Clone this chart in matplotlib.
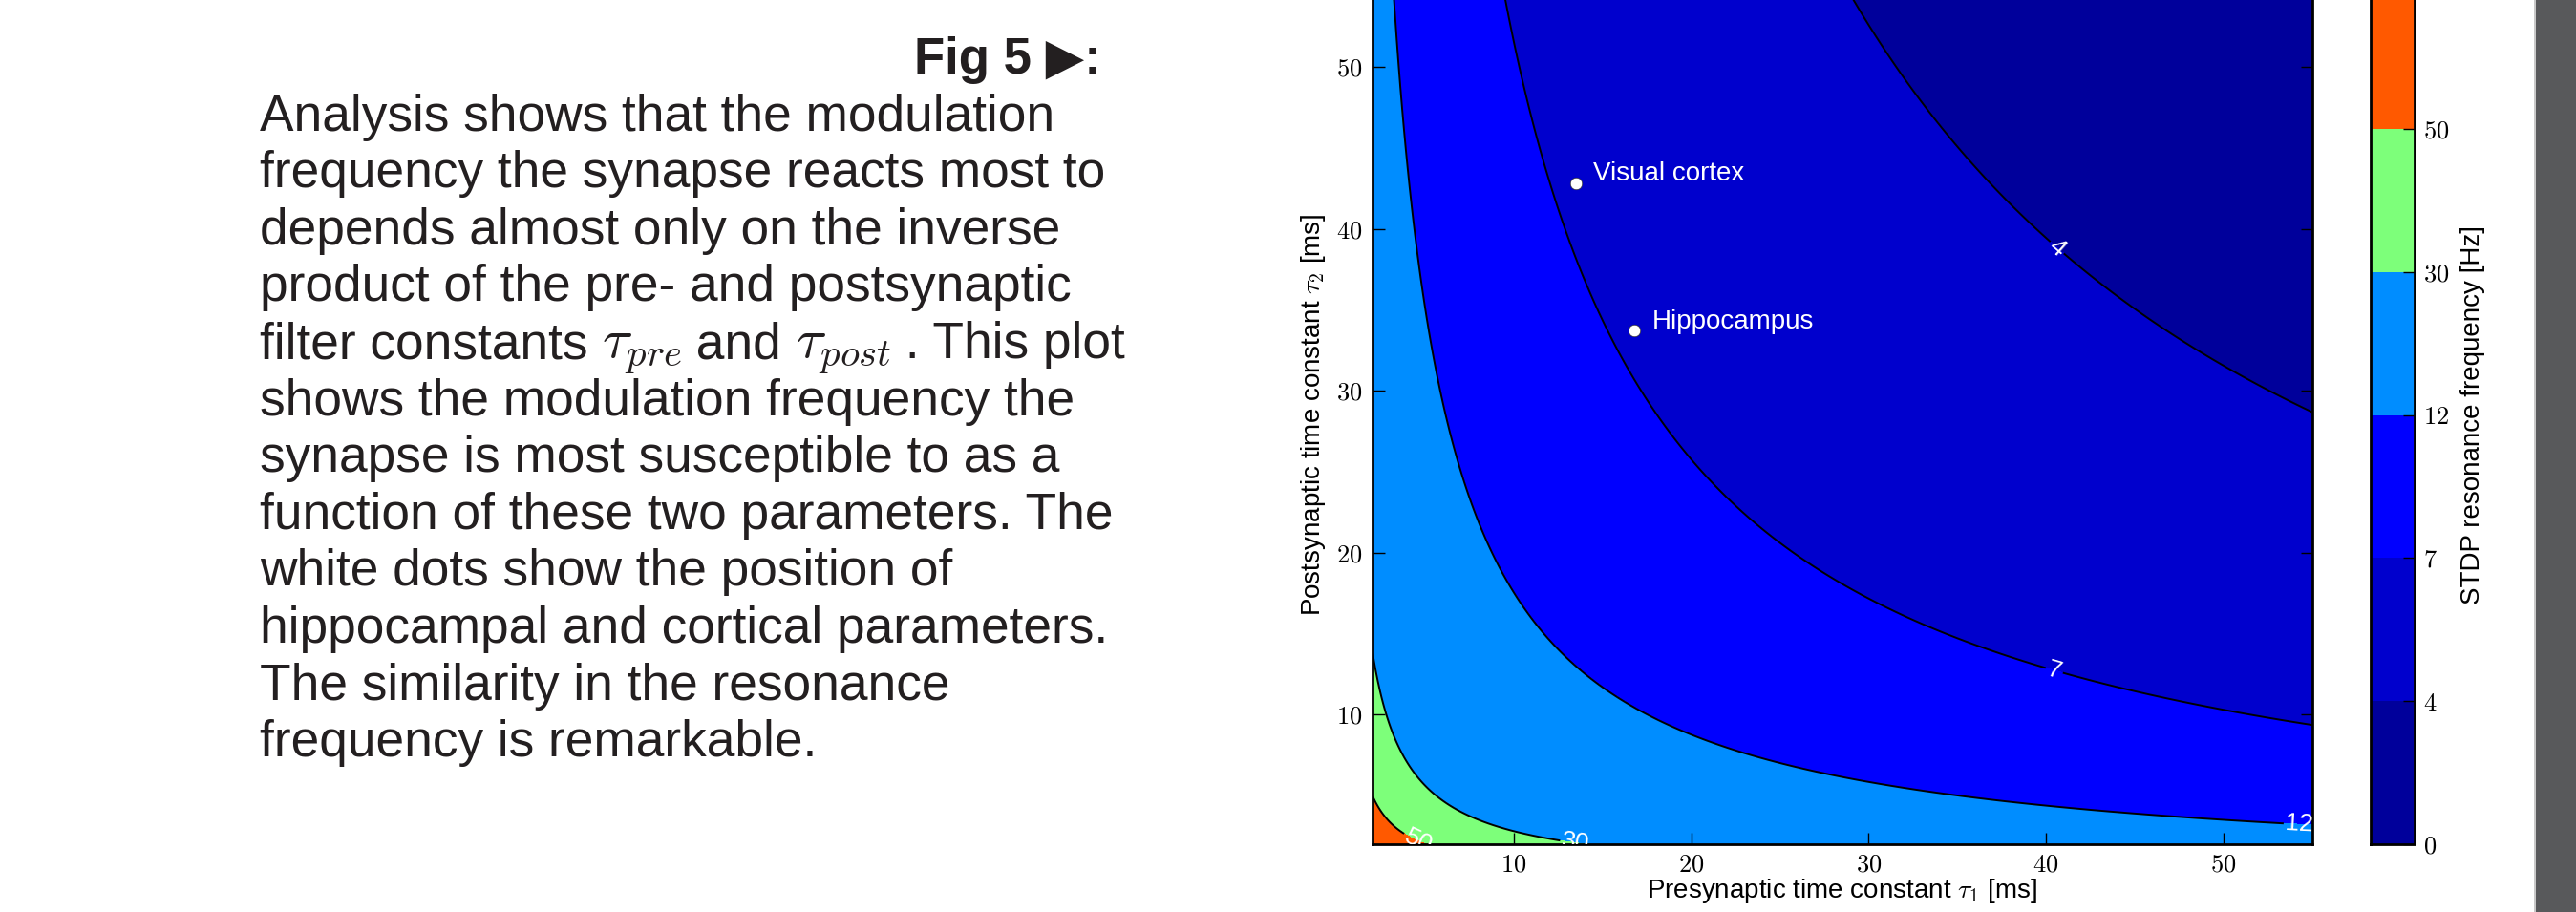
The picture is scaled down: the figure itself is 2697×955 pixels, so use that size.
#!/usr/bin/env python3
import numpy as np
import matplotlib
matplotlib.use('Agg')
import matplotlib.pyplot as plt
from matplotlib.ticker import FuncFormatter
from matplotlib.patches import Rectangle

plt.rcParams['font.family'] = ['Liberation Sans', 'DejaVu Sans']
plt.rcParams['mathtext.fontset'] = 'cm'

# contour levels of the STDP resonance frequency [Hz]
levels = [0, 4, 7, 12, 30, 50, 80]
tick_levels = [0, 4, 7, 12, 30, 50]
labelled_levels = [4, 7, 12, 30, 50]

# points: tau1 [ms], tau2 [ms], frequency [Hz]
read_tau1 = [2.0, 2.0, 3.3, 54.2, 55.0, 40.5, 40.6]
read_tau2 = [4.9, 13.85, 54.1, 3.24, 9.5, 12.85, 38.8]
read_freq = [50, 30, 12, 12, 7, 7, 4]

# white dots
site_names = ['Visual cortex', 'Hippocampus']
site_tau1 = [13.5, 16.8]
site_tau2 = [42.8, 33.7]

caption_title = 'Fig 5 \u25B6:'
caption_lines = [
    'Analysis shows that the modulation',
    'frequency the synapse reacts most to',
    'depends almost only on the inverse',
    'product of the pre- and postsynaptic',
    ['filter constants ', r'$\tau_{pre}$', ' and ', r'$\tau_{post}$', ' . This plot'],
    'shows the modulation frequency the',
    'synapse is most susceptible to as a',
    'function of these two parameters. The',
    'white dots show the position of',
    'hippocampal and cortical parameters.',
    'The similarity in the resonance',
    'frequency is remarkable.',
]


def main():
    W, H = 2697, 955
    fig = plt.figure(figsize=(W / 100, H / 100), dpi=100)
    renderer = fig.canvas.get_renderer()

    """
    caption text
    """
    fig.text(1153 / W, 1 - 77 / H, caption_title, ha='right', va='baseline',
             fontsize=38, fontweight='bold', color='#231f20')
    for i, line in enumerate(caption_lines):
        y = 1 - (136.7 + 59.6 * i) / H
        if isinstance(line, str):
            fig.text(272 / W, y, line, ha='left', va='baseline',
                     fontsize=38.3, color='#231f20')
            continue
        # mixed line: the math symbols are set a bit larger
        x = 272.0
        for piece in line:
            size = 42 if piece.startswith('$') else 38.3
            t = fig.text(x / W, y, piece, ha='left', va='baseline',
                         fontsize=size, color='#231f20')
            x += t.get_window_extent(renderer).width

    """
    contour plot
    """
    ax = fig.add_axes([1436.5 / W, 1 - 884 / H, 984 / W, (884 + 14.8) / H])
    # frequency falls with the inverse square root of tau1*tau2
    c = np.mean(np.array(read_freq) * np.sqrt(np.array(read_tau1) * np.array(read_tau2)))
    t1 = np.linspace(2, 55, 500)
    t2 = np.linspace(2, 55, 500)
    T1, T2 = np.meshgrid(t1, t2)
    F = c / np.sqrt(T1 * T2)

    cf = ax.contourf(T1, T2, F, levels=levels, cmap='jet')
    cs = ax.contour(T1, T2, F, levels=levels[1:-1], colors='k', linewidths=1.4)
    label_pos = [(40.6, 38.8), (40.5, 12.85), (54.3, 3.2), (13.5, 2.15), (4.6, 2.2)]
    ax.clabel(cs, levels=labelled_levels, manual=label_pos, fmt='%d',
              colors='white', fontsize=19, inline=True, inline_spacing=2)

    ax.plot(site_tau1, site_tau2, 'o', color='white', markersize=9,
            markeredgecolor='#333333', markeredgewidth=0.5)
    for name, x, y in zip(site_names, site_tau1, site_tau2):
        ax.annotate(name, (x, y), xytext=(13, 7), textcoords='offset points',
                    ha='left', va='center', color='white', fontsize=20)

    ax.set_xlim(2, 55)
    ax.set_ylim(2, 55)
    ax.set_xticks([10, 20, 30, 40, 50])
    ax.set_yticks([10, 20, 30, 40, 50])
    fmt = FuncFormatter(lambda v, p: r'$%d$' % v)
    ax.xaxis.set_major_formatter(fmt)
    ax.yaxis.set_major_formatter(fmt)
    ax.tick_params(direction='in', top=True, right=True, length=9, width=1,
                   labelsize=19, pad=7)
    for s in ax.spines.values():
        s.set_linewidth(2)
    ax.set_xlabel(r'Presynaptic time constant $\tau_1$ [ms]', fontsize=20)
    ax.set_ylabel(r'Postsynaptic time constant $\tau_2$ [ms]', fontsize=20)
    ax.xaxis.set_label_coords(0.5, -0.038)
    ax.yaxis.set_label_coords(-0.047, 0.5)

    """
    colorbar
    """
    cax = fig.add_axes([2481.7 / W, 1 - 884 / H, 46 / W, (884 + 14.8) / H])
    cb = fig.colorbar(cf, cax=cax, ticks=tick_levels)
    cb.ax.yaxis.set_major_formatter(fmt)
    cb.ax.tick_params(direction='in', length=9, width=1, labelsize=19, pad=7)
    cb.outline.set_linewidth(2)
    cb.set_label('STDP resonance frequency [Hz]', fontsize=20, labelpad=8)

    # grey slide border on the right
    fig.patches.append(Rectangle((2654 / W, 0), 1 - 2654 / W, 1,
                                 transform=fig.transFigure, facecolor='#58595b',
                                 edgecolor='none', zorder=5))
    fig.patches.append(Rectangle((2653 / W, 0), 1.5 / W, 1,
                                 transform=fig.transFigure, facecolor='#c8c8c8',
                                 edgecolor='none', zorder=6))

    fig.savefig('out.png', dpi=100)


if __name__ == '__main__':
    main()
